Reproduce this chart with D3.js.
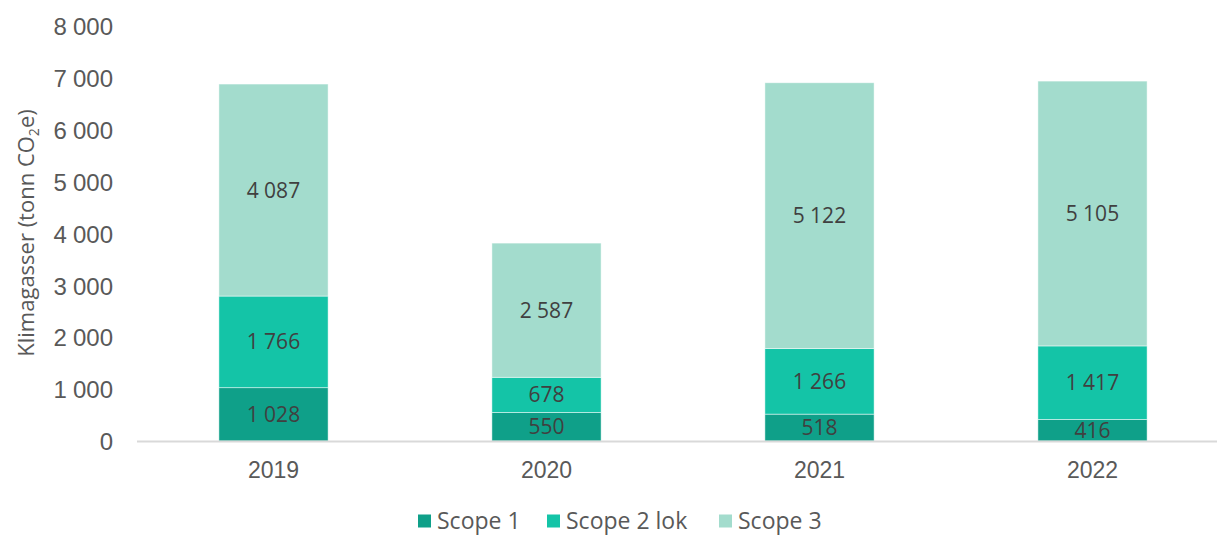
<!DOCTYPE html>
<html>
<head>
<meta charset="utf-8">
<script src="https://cdn.jsdelivr.net/npm/d3@7"></script>
<style>
  body { margin: 0; background: #fff; }
  svg { display: block; font-family: "Open Sans", sans-serif; }
</style>
</head>
<body>
<svg id="chart" width="1217" height="535"></svg>
<script>
var years = ["2019", "2020", "2021", "2022"]
var seriesNames = ["Scope 1", "Scope 2 lok", "Scope 3"]
var scope1 = [1028, 550, 518, 416]
var scope2 = [1766, 678, 1266, 1417]
var scope3 = [4087, 2587, 5122, 5105]
var yTicks = [0, 1000, 2000, 3000, 4000, 5000, 6000, 7000, 8000]
var colors = ["#0fa089", "#14c4a7", "#a3dccd"]

var rows = years.map(function(y, i) {
  return { year: y, "Scope 1": scope1[i], "Scope 2 lok": scope2[i], "Scope 3": scope3[i] }
})

var svg = d3.select("#chart")
var margin = {top: 26, left: 137, bottom: 94}
var height = +svg.attr("height") - margin.top - margin.bottom

var fmt = d3.formatLocale({decimal: ",", thousands: "\u2005", grouping: [3], currency: ["", ""]}).format(",d")

var x = d3.scaleBand()
  .domain(years)
  .range([margin.left, margin.left + 4 * 273])
  .paddingInner(0.6)
  .paddingOuter(0.3)

var y = d3.scaleLinear()
  .domain([0, 8000])
  .range([margin.top + height, margin.top])

var stack = d3.stack().keys(seriesNames)(rows)

// bars
var layer = svg.selectAll(".layer")
  .data(stack)
  .enter().append("g")
  .attr("class", "layer")
  .attr("fill", (d, i) => colors[i])

layer.selectAll("rect")
  .data(d => d)
  .enter().append("rect")
  .attr("x", d => x(d.data.year))
  .attr("y", d => y(d[1]))
  .attr("width", x.bandwidth())
  .attr("height", d => y(d[0]) - y(d[1]))
  .attr("stroke", "#fff")
  .attr("stroke-width", 0.8)
  .attr("stroke-opacity", 0.6)

// value labels
layer.selectAll("text")
  .data(d => d)
  .enter().append("text")
  .attr("x", d => x(d.data.year) + x.bandwidth() / 2)
  .attr("y", d => (y(d[0]) + y(d[1])) / 2)
  .attr("dy", "0.36em")
  .attr("text-anchor", "middle")
  .attr("fill", "#404040")
  .style("font-size", "21px")
  .text(d => fmt(d[1] - d[0]))

// baseline
svg.append("line")
  .attr("x1", margin.left).attr("x2", 1217)
  .attr("y1", y(0) + 0.5).attr("y2", y(0) + 0.5)
  .attr("stroke", "#d9d9d9")
  .attr("stroke-width", 2)

// y axis
var yAxis = d3.axisLeft(y).tickValues(yTicks).tickFormat(fmt).tickSize(0).tickPadding(0)
var gy = svg.append("g")
  .attr("transform", "translate(113,0)")
  .call(yAxis)
gy.select(".domain").remove()
gy.selectAll("text")
  .attr("fill", "#595959")
  .style("font-size", "24px")
  .attr("dy", "0.36em")

// x axis
var xAxis = d3.axisBottom(x).tickSize(0).tickPadding(0)
var gx = svg.append("g")
  .attr("transform", "translate(0," + (y(0) + 29) + ")")
  .call(xAxis)
gx.select(".domain").remove()
gx.selectAll("text")
  .attr("fill", "#595959")
  .attr("dy", "0.36em")
  .style("font-size", "23px")

// y label
var yl = svg.append("text")
  .attr("transform", "translate(26,233) rotate(-90)")
  .attr("text-anchor", "middle")
  .attr("dy", "0.36em")
  .attr("fill", "#595959")
  .style("font-size", "22px")
yl.append("tspan").text("Klimagasser (tonn CO")
yl.append("tspan").attr("dy", "5").style("font-size", "14px").text("2")
yl.append("tspan").attr("dy", "-5").text("e)")

// legend
var legendX = [418, 547, 719]
var lg = svg.selectAll(".leg")
  .data(seriesNames)
  .enter().append("g")
  .attr("class", "leg")
  .attr("transform", (d, i) => "translate(" + legendX[i] + ",521)")
lg.append("rect")
  .attr("x", 0).attr("y", -6.5)
  .attr("width", 13).attr("height", 13)
  .attr("fill", (d, i) => colors[i])
lg.append("text")
  .attr("x", 19)
  .attr("dy", "0.36em")
  .attr("fill", "#595959")
  .style("font-size", "23px")
  .text(d => d)
</script>
</body>
</html>
